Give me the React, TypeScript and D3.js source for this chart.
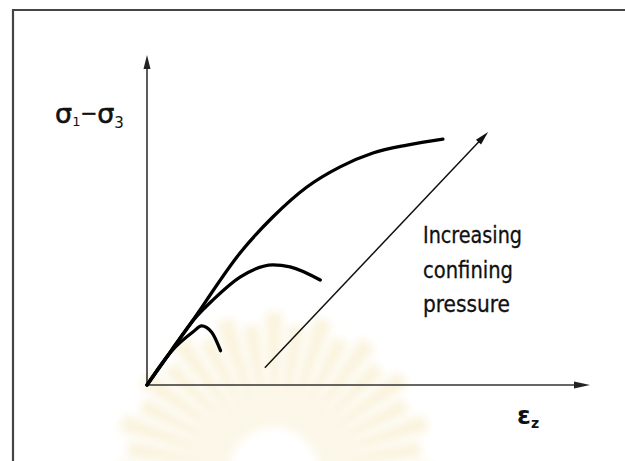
import React from 'react';
import * as d3 from 'd3';

// curves: strain (x) vs deviator stress (y), arbitrary units
const strainHigh = [0, 0.55, 1.17, 1.35, 2.1, 2.84, 3.61, 4.36, 5.1, 5.87, 6.68];
const stressHigh = [0, 1.05, 2.22, 2.58, 4.0, 5.09, 6.0, 6.61, 7.03, 7.27, 7.45];

const strainMid = [0, 0.55, 1.08, 1.49, 2.1, 2.84, 3.23, 3.91];
const stressMid = [0, 1.04, 2.02, 2.58, 3.27, 3.64, 3.58, 3.18];

const strainLow = [0, 0.55, 1.05, 1.23, 1.46, 1.66];
const stressLow = [0, 1.02, 1.62, 1.79, 1.6, 1.04];

// "increasing confining pressure" arrow
const arrowStrain = [2.66, 7.7];
const arrowStress = [0.52, 7.67];

const noteLines = ['Increasing', 'confining', 'pressure'];
const noteWidths = [99, 90, 87];

const width = 625;
const height = 461;

const x = d3.scaleLinear().domain([0, 10]).range([147, 590]);
const y = d3.scaleLinear().domain([0, 10]).range([385, 55]);

const line = d3
  .line<[number, number]>()
  .x(d => x(d[0]))
  .y(d => y(d[1]))
  .curve(d3.curveMonotoneX);

const zip = (a: number[], b: number[]) => a.map((v, i) => [v, b[i]] as [number, number]);

const curves = [zip(strainHigh, stressHigh), zip(strainMid, stressMid), zip(strainLow, stressLow)];

// faint watermark fan at the bottom
const rays = d3.range(21);

export default function App() {
  const [sx0, sx1] = arrowStrain;
  const [sy0, sy1] = arrowStress;
  const ax0 = x(sx0), ay0 = y(sy0), ax1 = x(sx1), ay1 = y(sy1);
  const ang = Math.atan2(ay1 - ay0, ax1 - ax0);
  const head = (tx: number, ty: number, a: number, len: number, w: number) => {
    const bx = tx - len * Math.cos(a);
    const by = ty - len * Math.sin(a);
    const px = -Math.sin(a) * w;
    const py = Math.cos(a) * w;
    return `M${tx},${ty}L${bx + px},${by + py}L${bx - px},${by - py}Z`;
  };

  const arc = d3.arc<number>()
    .innerRadius(45)
    .outerRadius(d => (d % 2 === 0 ? 160 : 148))
    .startAngle(d => -Math.PI / 2 + (d * Math.PI) / 20 - 0.055)
    .endAngle(d => -Math.PI / 2 + (d * Math.PI) / 20 + 0.055);

  return (
    <svg width={width} height={height} style={{ position: 'absolute', left: 0, top: 0, background: '#fff' }}>
      <defs>
        <filter id="soft" x="-20%" y="-20%" width="140%" height="140%">
          <feGaussianBlur stdDeviation={4} />
        </filter>
      </defs>
      <g transform="translate(274,472)" filter="url(#soft)">
        {rays.map(d => (
          <path key={d} d={arc(d) || ''} fill="#f8efd2" opacity={0.75} />
        ))}
      </g>

      {/* frame */}
      <path d={`M13,${height}V10H${width}`} fill="none" stroke="#444" strokeWidth={2.2} />

      {/* axes */}
      <line x1={x(0)} y1={y(0)} x2={x(0)} y2={y(10) + 10} stroke="#333" strokeWidth={1.6} />
      <path d={head(x(0), y(10), -Math.PI / 2, 14, 3.5)} fill="#222" />
      <line x1={x(0)} y1={y(0)} x2={x(10) - 10} y2={y(0)} stroke="#333" strokeWidth={1.6} />
      <path d={head(x(10), y(0), 0, 16, 3.5)} fill="#222" />

      {curves.map((c, i) => (
        <path key={i} d={line(c) || ''} fill="none" stroke="#000" strokeWidth={3.3} strokeLinecap="round" />
      ))}

      <line x1={ax0} y1={ay0} x2={ax1 - 8 * Math.cos(ang)} y2={ay1 - 8 * Math.sin(ang)} stroke="#111" strokeWidth={1.5} />
      <path d={head(ax1, ay1, ang, 14, 3.5)} fill="#111" />

      <g fontFamily="'DejaVu Sans Condensed', 'DejaVu Sans', sans-serif" fill="#111" stroke="#111" strokeWidth={0.3}>
        {noteLines.map((t, i) => (
          <text key={t} x={423} y={243 + i * 34.5} fontSize={23} textLength={noteWidths[i]} lengthAdjust="spacingAndGlyphs">
            {t}
          </text>
        ))}
      </g>

      <g fontFamily="'DejaVu Sans', sans-serif" fill="#111">
        <text x={55} y={123} fontSize={27} stroke="#111" strokeWidth={0.6}>σ<tspan fontSize={13} dy={3} strokeWidth={0}>1</tspan><tspan fontSize={20} dy={-6.5}>−</tspan><tspan dy={3.5}>σ</tspan><tspan fontSize={15} dy={5} strokeWidth={0}>3</tspan></text>
        <text x={517} y={424} fontSize={25} fontWeight="bold">
          ε<tspan fontSize={14} dy={4}>z</tspan>
        </text>
      </g>
    </svg>
  );
}
